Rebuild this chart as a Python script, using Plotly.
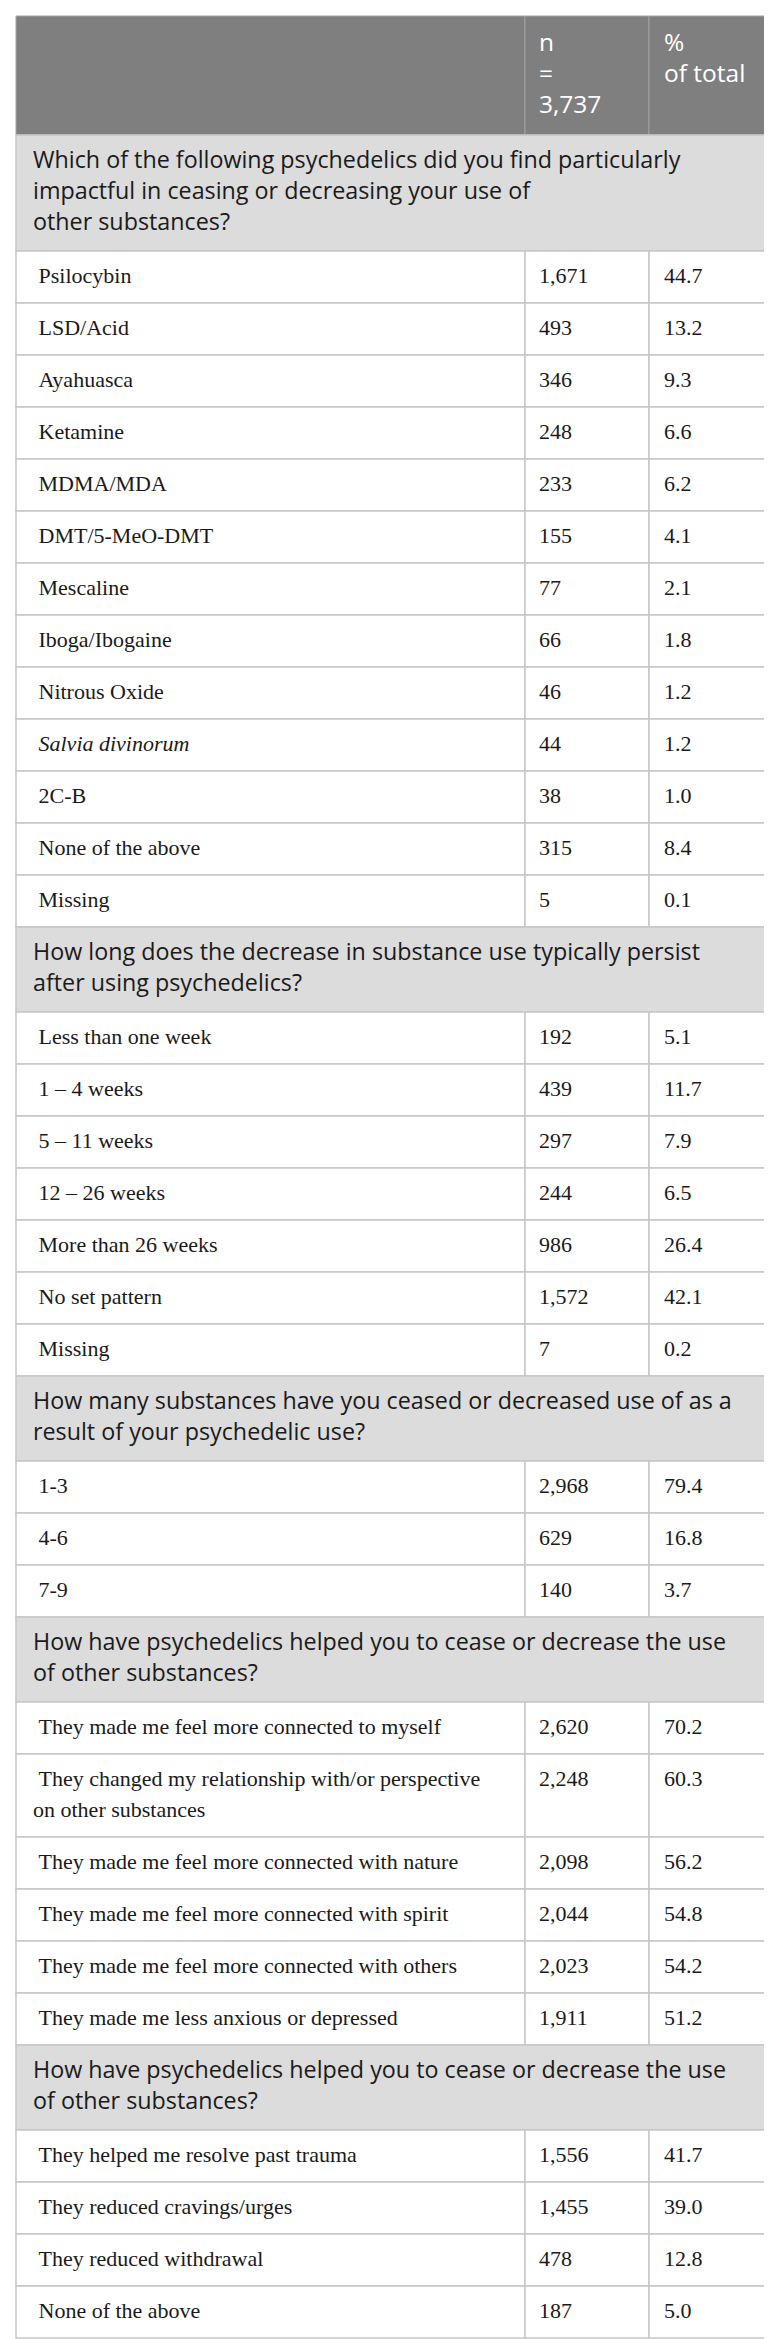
import plotly.graph_objects as go

# ---------------- data ----------------
header_cols = ["", "n<br>=<br>3,737", "%<br>of total"]

q1_title = ("Which of the following psychedelics did you find particularly<br>"
            "impactful in ceasing or decreasing your use of<br>other substances?")
q1_labels = ["Psilocybin", "LSD/Acid", "Ayahuasca", "Ketamine", "MDMA/MDA",
             "DMT/5-MeO-DMT", "Mescaline", "Iboga/Ibogaine", "Nitrous Oxide",
             "<i>Salvia divinorum</i>", "2C-B", "None of the above", "Missing"]
q1_n = [1671, 493, 346, 248, 233, 155, 77, 66, 46, 44, 38, 315, 5]
q1_pct = [44.7, 13.2, 9.3, 6.6, 6.2, 4.1, 2.1, 1.8, 1.2, 1.2, 1.0, 8.4, 0.1]

q2_title = ("How long does the decrease in substance use typically persist<br>"
            "after using psychedelics?")
q2_labels = ["Less than one week", "1 – 4 weeks", "5 – 11 weeks", "12 – 26 weeks",
             "More than 26 weeks", "No set pattern", "Missing"]
q2_n = [192, 439, 297, 244, 986, 1572, 7]
q2_pct = [5.1, 11.7, 7.9, 6.5, 26.4, 42.1, 0.2]

q3_title = ("How many substances have you ceased or decreased use of as a<br>"
            "result of your psychedelic use?")
q3_labels = ["1-3", "4-6", "7-9"]
q3_n = [2968, 629, 140]
q3_pct = [79.4, 16.8, 3.7]

q4_title = ("How have psychedelics helped you to cease or decrease the use<br>"
            "of other substances?")
q4_labels = ["They made me feel more connected to myself",
             "They changed my relationship with/or perspective<br>on other substances",
             "They made me feel more connected with nature",
             "They made me feel more connected with spirit",
             "They made me feel more connected with others",
             "They made me less anxious or depressed"]
q4_n = [2620, 2248, 2098, 2044, 2023, 1911]
q4_pct = [70.2, 60.3, 56.2, 54.8, 54.2, 51.2]

q5_title = ("How have psychedelics helped you to cease or decrease the use<br>"
            "of other substances?")
q5_labels = ["They helped me resolve past trauma", "They reduced cravings/urges",
             "They reduced withdrawal", "None of the above"]
q5_n = [1556, 1455, 478, 187]
q5_pct = [41.7, 39.0, 12.8, 5.0]

sections = [
    (q1_title, q1_labels, q1_n, q1_pct),
    (q2_title, q2_labels, q2_n, q2_pct),
    (q3_title, q3_labels, q3_n, q3_pct),
    (q4_title, q4_labels, q4_n, q4_pct),
    (q5_title, q5_labels, q5_n, q5_pct),
]

# ---------------- layout constants ----------------
W, H = 772, 2339
COL_EDGES = [8, 517, 641, 766]
TEXT_X = [25, 531, 656]
Y_START = 8
LINE_H = 31
PAD = {"head": 13, "cat": 11.5, "data": 10.5}

HEAD_FILL = "#7f7f7f"
HEAD_LINE = "#a3a3a3"
CAT_FILL = "#dcdcdc"
GRID = "#c6c6c6"
TEXT_DARK = "#1a1a1a"

SANS = "Open Sans"
SERIF = "Liberation Serif"
FONT_SIZE = {"head": 24.5, "cat": 23.3, "data": 22}

# ---------------- build rows ----------------
rows = [("head", header_cols)]
for title, labels, ns, pcts in sections:
    rows.append(("cat", [title]))
    for lab, n, p in zip(labels, ns, pcts):
        rows.append(("data", ["\u00a0" + lab, f"{n:,}", f"{p:.1f}"]))

shapes = []
texts = {k: {"x": [], "y": [], "t": []} for k in ("head", "cat", "data")}

y = Y_START
for kind, cells in rows:
    nlines = max(c.count("<br>") + 1 for c in cells)
    h = nlines * LINE_H + 2 * PAD[kind]
    top, bot = y, y + h
    if kind == "cat":
        spans = [(COL_EDGES[0], COL_EDGES[3])]
        fill, lc, lw = CAT_FILL, GRID, 1.5
    else:
        spans = [(COL_EDGES[i], COL_EDGES[i + 1]) for i in range(3)]
        if kind == "head":
            fill, lc, lw = HEAD_FILL, HEAD_LINE, 1
        else:
            fill, lc, lw = "white", GRID, 1.5
    for (x0, x1) in spans:
        shapes.append(dict(type="rect", xref="x", yref="y", x0=x0, x1=x1,
                           y0=top, y1=bot, fillcolor=fill,
                           line=dict(color=lc, width=lw), layer="below"))
    for ci, cell in enumerate(cells):
        for li, line in enumerate(cell.split("<br>")):
            if not line:
                continue
            texts[kind]["x"].append(TEXT_X[ci])
            texts[kind]["y"].append(top + PAD[kind] + LINE_H * (li + 0.5))
            texts[kind]["t"].append(line)
    y = bot

styles = {
    "head": dict(family=SANS, size=FONT_SIZE["head"], color="white"),
    "cat": dict(family=SANS, size=FONT_SIZE["cat"], color=TEXT_DARK),
    "data": dict(family=SERIF, size=FONT_SIZE["data"], color=TEXT_DARK),
}

fig = go.Figure()
for kind in ("head", "cat", "data"):
    d = texts[kind]
    fig.add_trace(go.Scatter(
        x=d["x"], y=d["y"], text=d["t"], mode="text",
        textposition="middle right", textfont=styles[kind],
        hoverinfo="skip", showlegend=False, cliponaxis=False))

fig.update_layout(
    width=W, height=H, margin=dict(l=0, r=0, t=0, b=0),
    paper_bgcolor="white", plot_bgcolor="white",
    shapes=shapes, showlegend=False,
    xaxis=dict(range=[0, W], visible=False, fixedrange=True),
    yaxis=dict(range=[H, 0], visible=False, fixedrange=True),
)

fig.write_html("out.html")
